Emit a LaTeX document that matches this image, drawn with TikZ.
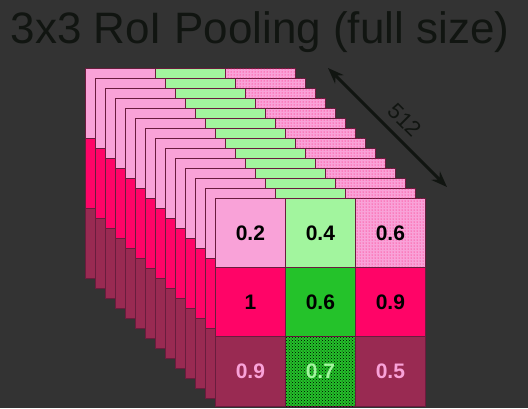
\documentclass[tikz,border=0pt]{standalone}
\usepackage{fontspec}
\setmainfont{Liberation Sans}
\usetikzlibrary{arrows.meta,patterns}
\definecolor{bgcol}{HTML}{333333}
\definecolor{ink}{HTML}{111511}
\definecolor{lpink}{HTML}{F9A2D8}
\definecolor{lgreen}{HTML}{A2F59E}
\definecolor{hpink}{HTML}{FF0467}
\definecolor{mgreen}{HTML}{24C22A}
\definecolor{maroon}{HTML}{992A52}
\definecolor{cellborder}{HTML}{6A1C3E}
\tikzset{
  cell/.style={draw=cellborder, line width=0.8pt, minimum width=70pt, minimum height=70pt,
    anchor=north west, inner sep=0pt, font=\bfseries\fontsize{21}{21}\selectfont},
  ca/.style={cell, fill=lpink},
  cb/.style={cell, fill=lgreen},
  cc/.style={cell, fill=lpink, postaction={pattern=dots, pattern color=hpink}},
  cd/.style={cell, fill=hpink},
  ce/.style={cell, fill=mgreen},
  cf/.style={cell, fill=hpink},
  cg/.style={cell, fill=maroon, text=lpink},
  ch/.style={cell, fill=mgreen, text=lgreen, postaction={pattern=crosshatch dots, pattern color=black}},
  ci/.style={cell, fill=maroon, text=lpink},
  title/.style={text=ink, font=\fontsize{44}{44}\selectfont},
  dim/.style={draw=ink, line width=3pt, {Stealth[length=16pt,width=12pt]}-{Stealth[length=16pt,width=12pt]}},
}
\begin{document}
\begin{tikzpicture}[x=1pt,y=-1pt]
\fill[bgcol] (0,0) rectangle (528,408);
\useasboundingbox (0,0) rectangle (528,408);
\node[title, anchor=base] (title) at (260,43) {3x3 RoI Pooling (full size)};
\foreach \i in {0,...,12}{
  \pgfmathsetmacro{\X}{85+10*\i}
  \pgfmathsetmacro{\Y}{68+10*\i}
  \node[ca] (l\i a) at (\X,\Y) {};
  \node[cb] (l\i b) at (\X+70,\Y) {};
  \node[cc] (l\i c) at (\X+140,\Y) {};
  \node[cd] (l\i d) at (\X,\Y+70) {};
  \node[ce] (l\i e) at (\X+70,\Y+70) {};
  \node[cf] (l\i f) at (\X+140,\Y+70) {};
  \node[cg] (l\i g) at (\X,\Y+140) {};
  \node[ch] (l\i h) at (\X+70,\Y+140) {};
  \node[ci] (l\i i) at (\X+140,\Y+140) {};
}
\node[ca] (fa) at (215,198) {0.2};
\node[cb] (fb) at (285,198) {0.4};
\node[cc] (fc) at (355,198) {0.6};
\node[cd] (fd) at (215,267) {1};
\node[ce] (fe) at (285,267) {0.6};
\node[cf] (ff) at (355,267) {0.9};
\node[cg] (fg) at (215,336) {0.9};
\node[ch] (fh) at (285,336) {0.7};
\node[ci] (fi) at (355,336) {0.5};
\coordinate (a1) at (328,68);
\coordinate (a2) at (447,187);
\draw[dim] (a1) -- node[pos=0.54, sloped, above=7pt, inner sep=1pt, text=ink, font=\fontsize{22}{22}\selectfont] (dimlabel) {512} (a2);
\end{tikzpicture}
\end{document}
